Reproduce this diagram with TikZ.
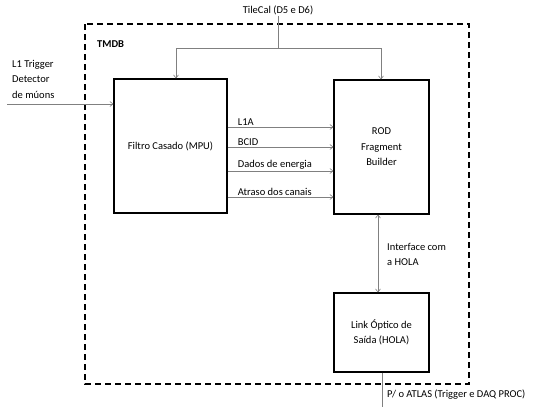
\documentclass[tikz,border=0pt]{standalone}
\usepackage{fontspec}
\setmainfont{Carlito}
\usetikzlibrary{arrows.meta}
\definecolor{wire}{RGB}{128,128,128}
\tikzset{
  blk/.style={draw=black, line width=1.2pt, minimum width=95pt, inner sep=2pt, align=center},
  wirearr/.style={draw=wire, line width=0.6pt, -{Straight Barb[length=3pt,width=5pt]}},
  wireln/.style={draw=wire, line width=0.6pt},
  lbl/.style={font=\fontsize{10.5}{15.5}\selectfont, inner sep=1pt}
}
\begin{document}
\begin{tikzpicture}[x=1pt, y=-1pt, font=\fontsize{10.5}{15.5}\selectfont]
\useasboundingbox (0,0) rectangle (552,407);
\draw[black, line width=1.5pt, dash pattern=on 6pt off 4pt] (85,24) rectangle (469,384);
\node[lbl, anchor=west] (tmdb) at (96,44) {\textbf{TMDB}};

\node[blk, minimum width=113pt, minimum height=134pt] (filtro) at (170.5,146) {Filtro Casado (MPU)};
\node[blk, minimum height=134pt] (rod) at (381.5,147) {ROD\\Fragment\\Builder};
\node[blk, minimum height=79pt] (link) at (381.5,332.5) {Link Óptico de\\Saída (HOLA)};

\node[lbl] (tilecal) at (278,10) {TileCal (D5 e D6)};
\coordinate (split) at (278,48);
\draw[wireln] (tilecal.south) -- (split);
\draw[wirearr] (split) -| ([xshift=5.5pt]filtro.north);
\draw[wirearr] (split) -| ([xshift=-0.5pt]rod.north);

\node[lbl, anchor=west, align=left] (l1) at (11,79) {L1 Trigger\\Detector\\de múons};
\coordinate (l1in) at (7,104);
\draw[wirearr] (l1in) -- (filtro.west |- l1in);

\draw[wirearr] (filtro.east |- 0,127) -- node[lbl, pos=0, anchor=south west, xshift=9pt] (l1a) {L1A} (rod.west |- 0,127);
\draw[wirearr] (filtro.east |- 0,147) -- node[lbl, pos=0, anchor=south west, xshift=9pt] (bcid) {BCID} (rod.west |- 0,147);
\draw[wirearr] (filtro.east |- 0,171) -- node[lbl, pos=0, anchor=south west, xshift=9pt] (dados) {Dados de energia} (rod.west |- 0,171);
\draw[wirearr] (filtro.east |- 0,197) -- node[lbl, pos=0, anchor=south west, xshift=9pt] (atraso) {Atraso dos canais} (rod.west |- 0,197);

\draw[wireln, {Straight Barb[length=3pt,width=5pt]}-{Straight Barb[length=3pt,width=5pt]}] ([xshift=-3.5pt]rod.south) -- ([xshift=-3.5pt]link.north);
\node[lbl, anchor=west, align=left] (iface) at (386,254.5) {Interface com\\a HOLA};

\coordinate (out) at (382,407);
\draw[wireln] ([xshift=0.5pt]link.south) -- (out);
\node[lbl, anchor=west] (atlas) at (386,395) {P/ o ATLAS (Trigger e DAQ PROC)};
\end{tikzpicture}
\end{document}
